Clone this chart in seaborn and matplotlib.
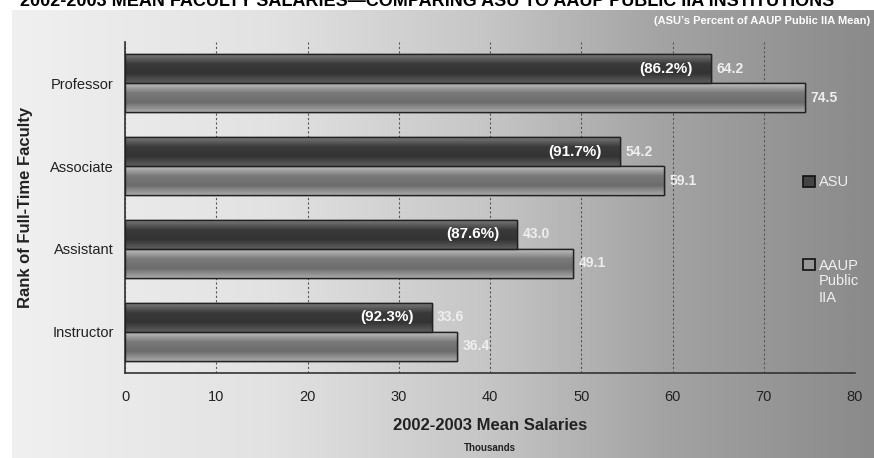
import numpy as np
import pandas as pd
import matplotlib
matplotlib.use("Agg")
import matplotlib.pyplot as plt
from matplotlib.colors import LinearSegmentedColormap
from matplotlib.patches import Patch
import seaborn as sns

# Data
ranks = ["Professor", "Associate", "Assistant", "Instructor"]
asu = [64.2, 54.2, 43.0, 33.6]
aaup = [74.5, 59.1, 49.1, 36.4]
pct = [86.2, 91.7, 87.6, 92.3]
series = ["ASU", "AAUP Public IIA"]

df = pd.DataFrame({
    "rank": ranks * 2,
    "salary": asu + aaup,
    "group": [series[0]] * 4 + [series[1]] * 4,
})

sns.set_style("white")
plt.rcParams["font.family"] = ["Liberation Sans", "DejaVu Sans"]

fig = plt.figure(figsize=(8.74, 4.58), dpi=100)
fig.patch.set_facecolor("white")

# gradient background panel
bg = fig.add_axes([12 / 874, 0, 1 - 12 / 874, (458 - 10) / 458], zorder=0)
bg_cmap = LinearSegmentedColormap.from_list(
    "bg", [(0, "#f0f0f0"), (0.3, "#e2e2e2"), (0.55, "#c6c6c6"), (0.75, "#a4a4a4"), (1, "#8a8a8a")])
bg.imshow(np.linspace(0, 1, 256)[None, :], aspect="auto", cmap=bg_cmap, extent=[0, 1, 0, 1])
bg.set_axis_off()

ax = fig.add_axes([125 / 874, (458 - 373) / 458, (855 - 125) / 874, (373 - 42) / 458], zorder=1)
ax.set_facecolor("none")

sns.barplot(data=df, x="salary", y="rank", hue="group", order=ranks, hue_order=series,
            orient="h", width=0.7, palette=["#444444", "#8a8a8a"], edgecolor="#222222",
            linewidth=1.0, legend=False, ax=ax, zorder=3)

# cylinder-like shading on each bar
asu_cmap = LinearSegmentedColormap.from_list("asu", ["#7a7a7a", "#3a3a3a", "#333333", "#5e5e5e"])
aaup_cmap = LinearSegmentedColormap.from_list("aaup", ["#c0c0c0", "#7a7a7a", "#6c6c6c", "#a8a8a8"])
shade = np.linspace(0, 1, 64)[:, None]
n = len(ranks)
for i, bar in enumerate(ax.patches):
    cm = asu_cmap if i < n else aaup_cmap
    x0, y0 = bar.get_x(), bar.get_y()
    w, h = bar.get_width(), bar.get_height()
    im = ax.imshow(shade, cmap=cm, aspect="auto", extent=[x0, x0 + w, y0 + h, y0], zorder=3.5)
    im.set_clip_path(bar)
    ax.add_patch(plt.Rectangle((x0, y0), w, h, fill=False, edgecolor="#222222", lw=1.0, zorder=4))

ax.set_xlim(0, 80)
ax.set_ylim(n - 0.5, -0.5)

# labels
for i in range(n):
    bar_a = ax.patches[i]
    bar_b = ax.patches[i + n]
    ya = bar_a.get_y() + bar_a.get_height() / 2
    yb = bar_b.get_y() + bar_b.get_height() / 2
    ax.annotate(f"({pct[i]:.1f}%)", (asu[i], ya), xytext=(-13, 0), textcoords="offset points",
                ha="right", va="center", color="white", fontsize=11, fontweight="bold", zorder=5)
    ax.annotate(f"{asu[i]:.1f}", (asu[i], ya), xytext=(4, 0), textcoords="offset points",
                ha="left", va="center", color="#eeeeee", fontsize=10, fontweight="bold", zorder=5)
    ax.annotate(f"{aaup[i]:.1f}", (aaup[i], yb), xytext=(4, 0), textcoords="offset points",
                ha="left", va="center", color="#eeeeee", fontsize=10, fontweight="bold", zorder=5)

# grid and spines
ax.set_xticks(range(0, 81, 10))
ax.grid(axis="x", linestyle=(0, (2, 2)), color="#555555", linewidth=0.8, zorder=0)
ax.grid(axis="y", visible=False)
for s in ["top", "right"]:
    ax.spines[s].set_visible(False)
for s in ["left", "bottom"]:
    ax.spines[s].set_color("#333333")
    ax.spines[s].set_linewidth(1.2)
ax.tick_params(axis="x", direction="inout", length=8, width=1, color="#333333",
               labelsize=10.5, labelcolor="#222222", pad=8)
ax.set_yticks(range(n))
ax.set_yticklabels(ranks)
ax.set_yticks(np.arange(-0.5, n, 1), minor=True)
ax.tick_params(axis="y", which="major", length=0, labelsize=10.5, labelcolor="#222222", pad=8)
ax.tick_params(axis="y", which="minor", direction="out", length=5, color="#333333")

ax.set_ylabel("Rank of Full-Time Faculty", fontsize=12, fontweight="bold", color="#222222", labelpad=12)
ax.set_xlabel("2002-2003 Mean Salaries", fontsize=12, fontweight="bold", color="#222222", labelpad=10)
fig.text(490 / 874, 1 - 448 / 458, "Thousands", ha="center", va="center", fontsize=7,
         fontweight="bold", color="#222222")

# legend
handles = [Patch(facecolor="#444444", edgecolor="#111111", lw=1.2),
           Patch(facecolor="#999999", edgecolor="#111111", lw=1.2)]
fig.legend(handles, ["ASU", "AAUP"], loc="upper left", bbox_to_anchor=(796 / 874, 1 - 168 / 458),
           frameon=False, borderpad=0, handlelength=0.8, handleheight=0.8, handletextpad=0.3,
           labelspacing=4.75, fontsize=10.5, labelcolor="#f0f0f0")
fig.text(819 / 874, 1 - 274 / 458, "Public\nIIA", ha="left", va="top", fontsize=10.5,
         color="#f0f0f0", linespacing=1.25)

# titles
fig.text(20 / 874, 1 - 2 / 458, "2002-2003 MEAN FACULTY SALARIES\u2014COMPARING ASU TO AAUP PUBLIC IIA INSTITUTIONS",
         ha="left", va="center", fontsize=13, fontweight="bold", color="black")
fig.text(870 / 874, 1 - 21 / 458, "(ASU\u2019s Percent of AAUP Public IIA Mean)", ha="right", va="center",
         fontsize=8, fontweight="bold", color="white")

fig.savefig("out.png", dpi=100)
